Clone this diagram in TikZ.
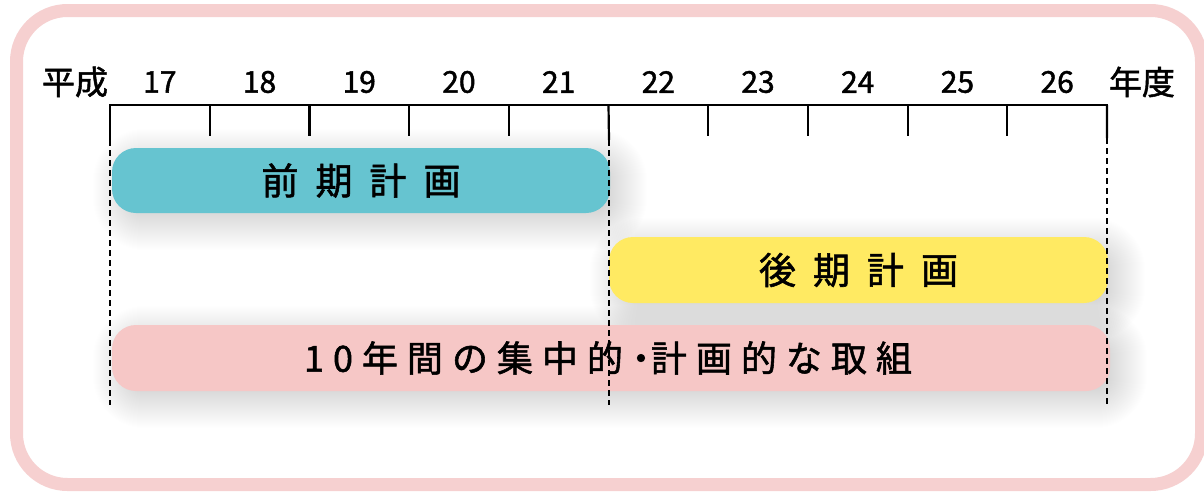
\documentclass[tikz,border=0pt]{standalone}
\usepackage{fontspec}
\setmainfont{Noto Sans CJK JP}[RawFeature={embolden=1.5}]
\pgfdeclarelayer{base}
\pgfdeclarelayer{background}
\pgfsetlayers{base,background,main}
\definecolor{frameP}{RGB}{246,208,208}
\definecolor{barC}{RGB}{102,196,208}
\definecolor{barY}{RGB}{255,234,98}
\definecolor{barP}{RGB}{246,199,198}
\newcommand{\gapA}{\hspace{17pt}}
\newcommand{\gapB}{\hspace{9pt}}
\newcommand{\gapL}{\hspace{0pt}}
\newcommand{\gapR}{\hspace{-8pt}}
\newcommand{\softshadow}[1]{%
  \begin{pgfonlayer}{background}
  \foreach \r in {28,27,...,-16} {
    \fill[black, opacity=0.0042, rounded corners={24pt+\r pt}]
      ([shift={(9-\r,9-\r)}]#1.north west) rectangle ([shift={(9+\r,9+\r)}]#1.south east);
  }
  \end{pgfonlayer}}
\tikzset{
  axisline/.style={line width=2.2pt, black},
  guide/.style={line width=2pt, black, dash pattern=on 6pt off 4pt},
  yearlab/.style={font=\fontsize{30}{30}\selectfont, inner sep=0pt},
  unitlab/.style={font=\fontsize{33}{33}\selectfont, inner sep=0pt},
  planbar/.style={rounded corners=24pt, inner sep=0pt, font=\fontsize{37}{37}\selectfont},
}
\begin{document}
\begin{tikzpicture}[x=1pt,y=-1pt]
\useasboundingbox (0,0) rectangle (1204,491);
\begin{pgfonlayer}{base}
\fill[white] (0,0) rectangle (1204,491);
\draw[line width=13pt, frameP, rounded corners=51pt] (16.5,10.5) rectangle (1201.5,484.5);
\end{pgfonlayer}

% bars
\node[planbar, fill=barP, minimum width=998pt, minimum height=66pt] (whole) at (611,358) {};
\node[font=\fontsize{36}{36}\selectfont, inner sep=0pt] (wholetext) at (608,358)
  {1\gapB 0\gapB 年\gapB 間\gapB の\gapB 集\gapB 中\gapB 的\gapL ・\gapR 計\gapB 画\gapB 的\gapB な\gapB 取\gapB 組};
\node[planbar, fill=barY, minimum width=499pt, minimum height=66pt] (late) at (858.5,270)
  {後\gapA 期\gapA 計\gapA 画};
\node[planbar, fill=barC, minimum width=498pt, minimum height=65pt] (early) at (361,180.5)
  {前\gapA 期\gapA 計\gapA 画};
\softshadow{whole}
\softshadow{late}
\softshadow{early}

% axis
\foreach \i in {0,...,10} {
  \coordinate (t\i) at ({110+\i*99.7},105);
}
\coordinate (b0) at (110,140);
\coordinate (b5) at (609,140);
\coordinate (b10) at (1107,138);
\coordinate (e0) at (110,405);
\coordinate (e5) at (609,405);
\coordinate (e10) at (1107,405);
\draw[axisline, line cap=rect] (t0) -- (t10);
\draw[axisline] (t0) -- (b0);
\draw[axisline] (t5) -- (b5);
\draw[axisline] (t10) -- (b10);
\foreach \i in {1,2,3,4,6,7,8,9} {
  \draw[axisline] (t\i) -- ++(0,31);
}
\draw[guide] (b0) -- (e0);
\draw[guide] (b5) -- (e5);
\draw[guide] (b10) -- (e10);

% labels
\node[unitlab] (heisei) at (75,82) {平成};
\node[unitlab] (nendo) at (1142,82) {年度};
\foreach \y [count=\k from 0] in {17,...,26} {
  \node[yearlab] (y\y) at ({159.85+\k*99.7},82) {\y};
}
\end{tikzpicture}
\end{document}
